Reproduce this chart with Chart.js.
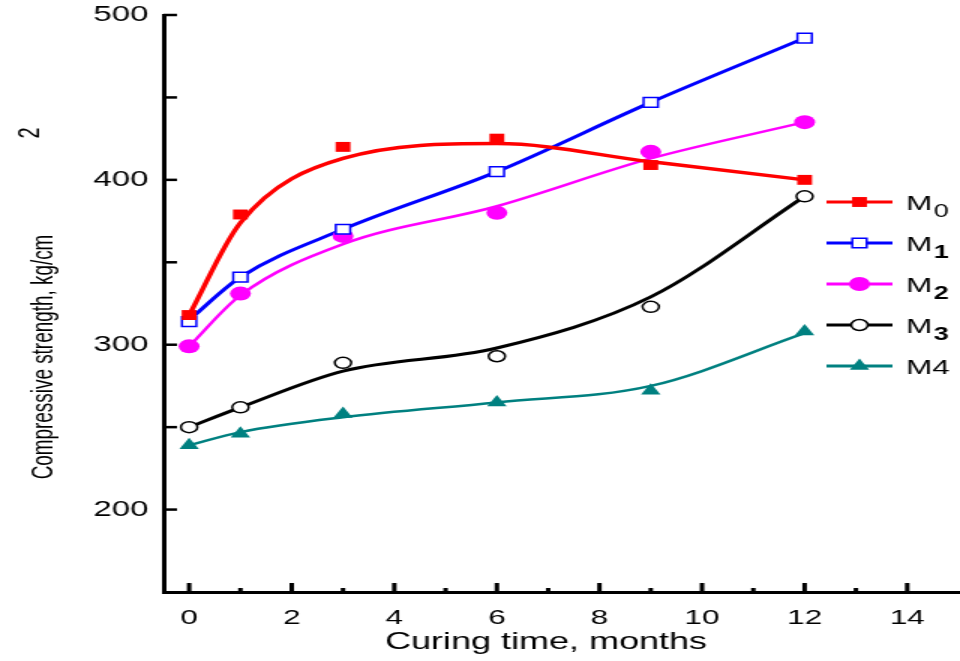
<!DOCTYPE html>
<html>
<head>
<meta charset="utf-8">
<script src="https://cdn.jsdelivr.net/npm/chart.js@4.4.1/dist/chart.umd.min.js"></script>
<style>
html, body { margin: 0; padding: 0; background: #fff; overflow: hidden; }
/* the original figure is stretched sideways, so the canvas is too */
#wrap { width: 640px; height: 661px; transform: scaleX(1.5); transform-origin: 0 0; }
</style>
</head>
<body>
<div id="wrap"><canvas id="chart" width="640" height="661"></canvas></div>
<script>
// curing time, months
var months = [0, 1, 3, 6, 9, 12];
var seriesNames = ['M0', 'M1', 'M2', 'M3', 'M4'];

// measured compressive strength (markers)
var m0 = [318, 379, 420, 425, 409, 400];
var m1 = [314, 341, 370, 405, 447, 486];
var m2 = [299, 331, 366, 380, 417, 435];
var m3 = [250, 262, 289, 293, 323, 390];
var m4 = [239, 246, 258, 265, 272, 308];

// fitted curves as drawn in the figure
var m0Fit = [318, 374, 413, 422, 411, 400];
var m1Fit = [315, 341, 370, 405, 447, 486];
var m2Fit = [299, 330, 361, 384, 413, 435];
var m3Fit = [250, 262, 284, 298, 329, 390];
var m4Fit = [239, 247, 256, 265, 275, 307];

var yTickLabels = [200, 300, 400, 500];
var xTickLabels = [0, 2, 4, 6, 8, 10, 12, 14];

var colors = ['#ff0000', '#0000ff', '#ff00ff', '#000000', '#008080'];
var styles = ['rect', 'rect', 'circle', 'circle', 'triangle'];
var fills = ['#ff0000', '#ffffff', '#ff00ff', '#ffffff', '#008080'];
var radii = [7, 6.8, 7, 5.5, 7.5];
var lineWidths = [3.5, 3, 2.5, 3, 2.5];
var boldSub = [false, true, true, true, false];

function pts(vals) {
  return vals.map(function (v, i) { return { x: months[i], y: v }; });
}

var points = [m0, m1, m2, m3, m4];
var fits = [m0Fit, m1Fit, m2Fit, m3Fit, m4Fit];
var datasets = [];
for (var i = 0; i < 5; i++) {
  datasets.push({
    label: seriesNames[i] + ' fit',
    data: pts(fits[i]),
    borderColor: colors[i],
    borderWidth: lineWidths[i],
    pointRadius: 0,
    cubicInterpolationMode: 'monotone',
    fill: false,
    order: 2
  });
  datasets.push({
    label: seriesNames[i],
    data: pts(points[i]),
    showLine: false,
    pointStyle: styles[i],
    pointRadius: radii[i],
    pointBackgroundColor: fills[i],
    pointBorderColor: colors[i],
    pointBorderWidth: fills[i] === '#ffffff' ? 1.5 : 0,
    order: 1
  });
}

var font = '"Liberation Sans", Arial, sans-serif';

var decorations = {
  id: 'decorations',
  afterDraw: function (chart) {
    var ctx = chart.ctx, a = chart.chartArea;
    var xs = chart.scales.x, ys = chart.scales.y;
    ctx.save();
    ctx.strokeStyle = '#000';
    ctx.lineCap = 'butt';

    // ticks point inward
    ctx.lineWidth = 2.5;
    ys.ticks.forEach(function (t) {
      if (t.value <= ys.min) return;
      var y = ys.getPixelForValue(t.value);
      ctx.beginPath(); ctx.moveTo(a.left, y); ctx.lineTo(a.left + 9, y); ctx.stroke();
    });
    ctx.lineWidth = 3;
    xs.ticks.forEach(function (t) {
      if (t.value < 0 || t.value > 14 || t.value % 1) return;
      var x = xs.getPixelForValue(t.value);
      var len = t.value % 2 === 0 ? 9 : 4;
      ctx.beginPath(); ctx.moveTo(x, a.bottom); ctx.lineTo(x, a.bottom - len); ctx.stroke();
    });

    // axis titles
    ctx.fillStyle = '#000';
    ctx.textAlign = 'center';
    ctx.textBaseline = 'middle';
    ctx.font = '24px ' + font;
    ctx.fillText('Curing time, months', 364, 642);

    ctx.save();
    ctx.translate(29, 357);
    ctx.rotate(-Math.PI / 2);
    ctx.scale(0.9, 1);
    ctx.font = '21px ' + font;
    ctx.fillText('Compressive strength, kg/cm', 0, 0);
    ctx.restore();
    ctx.save();
    ctx.translate(20, 133);
    ctx.rotate(-Math.PI / 2);
    ctx.font = '20px ' + font;
    ctx.fillText('2', 0, 0);
    ctx.restore();

    // legend
    var lx0 = a.right - 88, lx1 = a.right - 44, mx = a.right - 66, tx = a.right - 35;
    for (var i = 0; i < 5; i++) {
      var y = 202 + i * 41;
      ctx.strokeStyle = colors[i];
      ctx.lineWidth = 3;
      ctx.beginPath(); ctx.moveTo(lx0, y); ctx.lineTo(lx1, y); ctx.stroke();
      ctx.fillStyle = fills[i];
      ctx.strokeStyle = colors[i];
      ctx.lineWidth = fills[i] === '#ffffff' ? 1.5 : 0;
      Chart.helpers.drawPoint(ctx, {
        pointStyle: styles[i], radius: radii[i], rotation: 0,
        borderWidth: fills[i] === '#ffffff' ? 1.5 : 0
      }, mx, y);

      ctx.fillStyle = '#000';
      ctx.textAlign = 'left';
      ctx.textBaseline = 'alphabetic';
      var name = seriesNames[i];
      ctx.font = '21px ' + font;
      if (i === 4) {
        ctx.fillText(name, tx, y + 8);
      } else {
        ctx.fillText(name.charAt(0), tx, y + 8);
        var w = ctx.measureText(name.charAt(0)).width;
        ctx.font = (boldSub[i] ? 'bold ' : '') + '18px ' + font;
        ctx.fillText(name.slice(1), tx + w + 1, y + 15);
      }
    }
    ctx.restore();
  }
};

new Chart(document.getElementById('chart'), {
  type: 'line',
  data: { datasets: datasets },
  options: {
    responsive: false,
    animation: false,
    devicePixelRatio: 1,
    layout: { autoPadding: false, padding: { top: 15, right: 1, left: 0, bottom: 0 } },
    plugins: { legend: { display: false }, tooltip: { enabled: false } },
    scales: {
      x: {
        type: 'linear',
        min: -0.5,
        max: 15,
        grid: { display: false, drawTicks: false },
        border: { display: true, color: '#000', width: 3 },
        ticks: {
          stepSize: 1,
          includeBounds: false,
          padding: 14,
          color: '#000',
          font: { family: font, size: 21 },
          maxRotation: 0,
          autoSkip: false,
          callback: function (v) { return xTickLabels.indexOf(v) >= 0 ? String(v) : ''; }
        },
        afterFit: function (s) { s.height = 69; s.paddingLeft = 0; s.paddingRight = 0; }
      },
      y: {
        min: 150,
        max: 500,
        grid: { display: false, drawTicks: false },
        border: { display: true, color: '#000', width: 3 },
        ticks: {
          stepSize: 50,
          padding: 10,
          color: '#000',
          font: { family: font, size: 22 },
          autoSkip: false,
          callback: function (v) { return yTickLabels.indexOf(v) >= 0 ? String(v) : ''; }
        },
        afterFit: function (s) { s.width = 109; s.paddingTop = 0; s.paddingBottom = 0; }
      }
    }
  },
  plugins: [decorations]
});
</script>
</body>
</html>
